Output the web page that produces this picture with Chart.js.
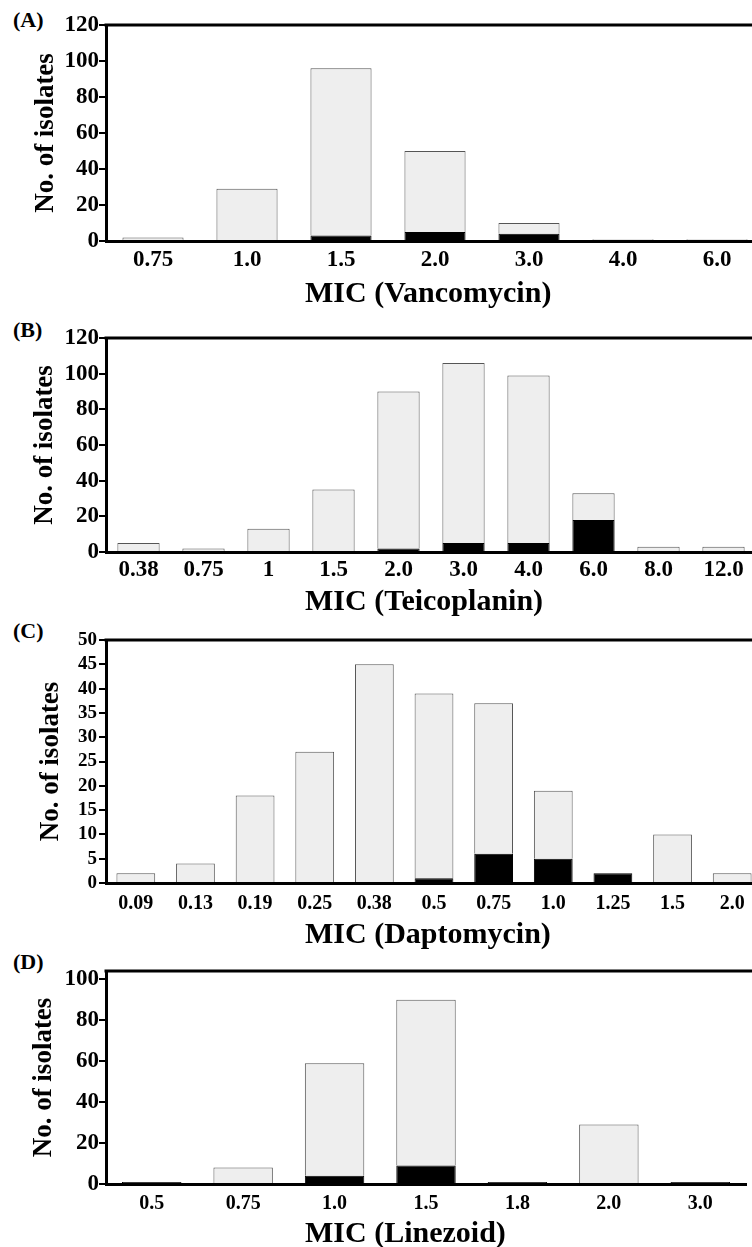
<!DOCTYPE html>
<html>
<head>
<meta charset="utf-8">
<script src="https://cdn.jsdelivr.net/npm/chart.js@4/dist/chart.umd.min.js"></script>
<style>
html, body { margin: 0; padding: 0; background: #fff; }
body { width: 752px; height: 1247px; overflow: hidden; position: relative; font-family: "Liberation Serif", "Times New Roman", serif; }
.panel { position: absolute; left: 0; }
.tag { position: absolute; left: 13px; font-weight: bold; font-size: 22px; line-height: 22px; color: #000; }
</style>
</head>
<body>
<div class="tag" style="top:9px">(A)</div>
<div class="tag" style="top:319px">(B)</div>
<div class="tag" style="top:620px">(C)</div>
<div class="tag" style="top:951px">(D)</div>

<canvas class="panel" id="chartA" width="764" height="310" style="top:0px"></canvas>
<canvas class="panel" id="chartB" width="756" height="308" style="top:310px"></canvas>
<canvas class="panel" id="chartC" width="762" height="333" style="top:618px"></canvas>
<canvas class="panel" id="chartD" width="752" height="296" style="top:951px"></canvas>

<script>
// (A) vancomycin
var vancoLabels = ['0.75', '1.0', '1.5', '2.0', '3.0', '4.0', '6.0'];
var vancoLight  = [2, 29, 93, 45, 6, 1, 1];
var vancoDark   = [0, 0, 3, 5, 4, 0, 0];
var vancoTicks  = [0, 20, 40, 60, 80, 100, 120];

// (B) teicoplanin
var teicoLabels = ['0.38', '0.75', '1', '1.5', '2.0', '3.0', '4.0', '6.0', '8.0', '12.0'];
var teicoLight  = [5, 2, 13, 35, 88, 101, 94, 15, 3, 3];
var teicoDark   = [0, 0, 0, 0, 2, 5, 5, 18, 0, 0];
var teicoTicks  = [0, 20, 40, 60, 80, 100, 120];

// (C) daptomycin
var daptoLabels = ['0.09', '0.13', '0.19', '0.25', '0.38', '0.5', '0.75', '1.0', '1.25', '1.5', '2.0'];
var daptoLight  = [2, 4, 18, 27, 45, 38, 31, 14, 0, 10, 2];
var daptoDark   = [0, 0, 0, 0, 0, 1, 6, 5, 2, 0, 0];
var daptoTicks  = [0, 5, 10, 15, 20, 25, 30, 35, 40, 45, 50];

// (D) linezolid
var linezLabels = ['0.5', '0.75', '1.0', '1.5', '1.8', '2.0', '3.0'];
var linezLight  = [0, 8, 55, 81, 0, 29, 0];
var linezDark   = [1, 0, 4, 9, 1, 0, 1];
var linezTicks  = [0, 20, 40, 60, 80, 100];

Chart.defaults.font.family = '"Liberation Serif", "Times New Roman", serif';
Chart.defaults.font.weight = 'bold';
Chart.defaults.color = '#000';

//thick line along the top of the frame
var frameTop = {
    id: 'frameTop',
    afterDraw: function(chart) {
        var ctx = chart.ctx, area = chart.chartArea;
        ctx.save();
        ctx.strokeStyle = '#000';
        ctx.lineWidth = 3;
        ctx.beginPath();
        ctx.moveTo(area.left - 1.5, area.top);
        ctx.lineTo(chart.width, area.top);
        ctx.stroke();
        ctx.restore();
    }
};

//x axis title, left aligned like in the figure
var xLabel = {
    id: 'xLabel',
    afterDraw: function(chart, args, o) {
        var ctx = chart.ctx;
        ctx.save();
        ctx.font = 'bold 30px "Liberation Serif", serif';
        ctx.fillStyle = '#000';
        ctx.textAlign = 'left';
        ctx.textBaseline = 'alphabetic';
        ctx.fillText(o.text, o.x, chart.chartArea.bottom + o.dy);
        ctx.restore();
    }
};

function makePanel(id, labels, light, dark, ticks, yMax, title, p) {
    return new Chart(document.getElementById(id), {
        type: 'bar',
        data: {
            labels: labels,
            datasets: [{
                data: dark,
                backgroundColor: '#000',
                borderColor: '#000',
                borderWidth: 1,
                stack: 's'
            }, {
                data: light,
                backgroundColor: '#eeeeee',
                borderColor: '#555555',
                borderWidth: 1,
                stack: 's'
            }]
        },
        options: {
            responsive: false,
            animation: false,
            layout: { padding: { top: p.padTop, left: 0, right: p.padRight || 0, bottom: 0 } },
            datasets: { bar: { categoryPercentage: 1, barPercentage: 0.65 } },
            plugins: {
                legend: { display: false },
                tooltip: { enabled: false },
                xLabel: { text: title, x: 305, dy: p.titleDy }
            },
            scales: {
                x: {
                    stacked: true,
                    grid: { display: false },
                    border: { display: true, color: '#000', width: 3 },
                    ticks: { font: { size: p.xSize, weight: 'bold', lineHeight: 1 }, padding: p.xPad, maxRotation: 0, autoSkip: false },
                    afterFit: function(s) { s.height = p.xHeight; s.paddingLeft = 0; s.paddingRight = 0; }
                },
                y: {
                    stacked: true,
                    min: 0,
                    max: yMax,
                    grid: { drawOnChartArea: false, drawTicks: true, tickLength: 7, lineWidth: 2, color: '#000' },
                    border: { display: true, color: '#000', width: 3 },
                    ticks: { font: { size: p.ySize, weight: 'bold', lineHeight: 1 }, padding: p.yPad, autoSkip: false },
                    title: {
                        display: true,
                        text: 'No. of isolates',
                        font: { size: 27, weight: 'bold' },
                        padding: { top: p.yTitlePad, bottom: 0 }
                    },
                    afterBuildTicks: function(s) {
                        s.ticks = ticks.map(function(v) { return { value: v }; });
                    },
                    afterFit: function(s) { s.width = 106; s.paddingTop = 0; s.paddingBottom = 0; }
                }
            }
        },
        plugins: [frameTop, xLabel]
    });
}

makePanel('chartA', vancoLabels, vancoLight, vancoDark, vancoTicks, 120, 'MIC (Vancomycin)',
    { padTop: 25, xHeight: 69, xSize: 23, xPad: 0, ySize: 23, yPad: 0, yTitlePad: 30, titleDy: 61 });
makePanel('chartB', teicoLabels, teicoLight, teicoDark, teicoTicks, 120, 'MIC (Teicoplanin)',
    { padTop: 28, xHeight: 66, xSize: 23, xPad: -1, ySize: 23, yPad: 0, yTitlePad: 29, titleDy: 58 });
makePanel('chartC', daptoLabels, daptoLight, daptoDark, daptoTicks, 50, 'MIC (Daptomycin)',
    { padTop: 22, xHeight: 68, xSize: 20, xPad: 3, ySize: 19, yPad: 2, yTitlePad: 35, titleDy: 60 });
makePanel('chartD', linezLabels, linezLight, linezDark, linezTicks, 104, 'MIC (Linezoid)',
    { padTop: 20, xHeight: 63, xSize: 20, xPad: 2, ySize: 23, yPad: 0, yTitlePad: 28, titleDy: 58, padRight: 6 });
</script>
</body>
</html>
